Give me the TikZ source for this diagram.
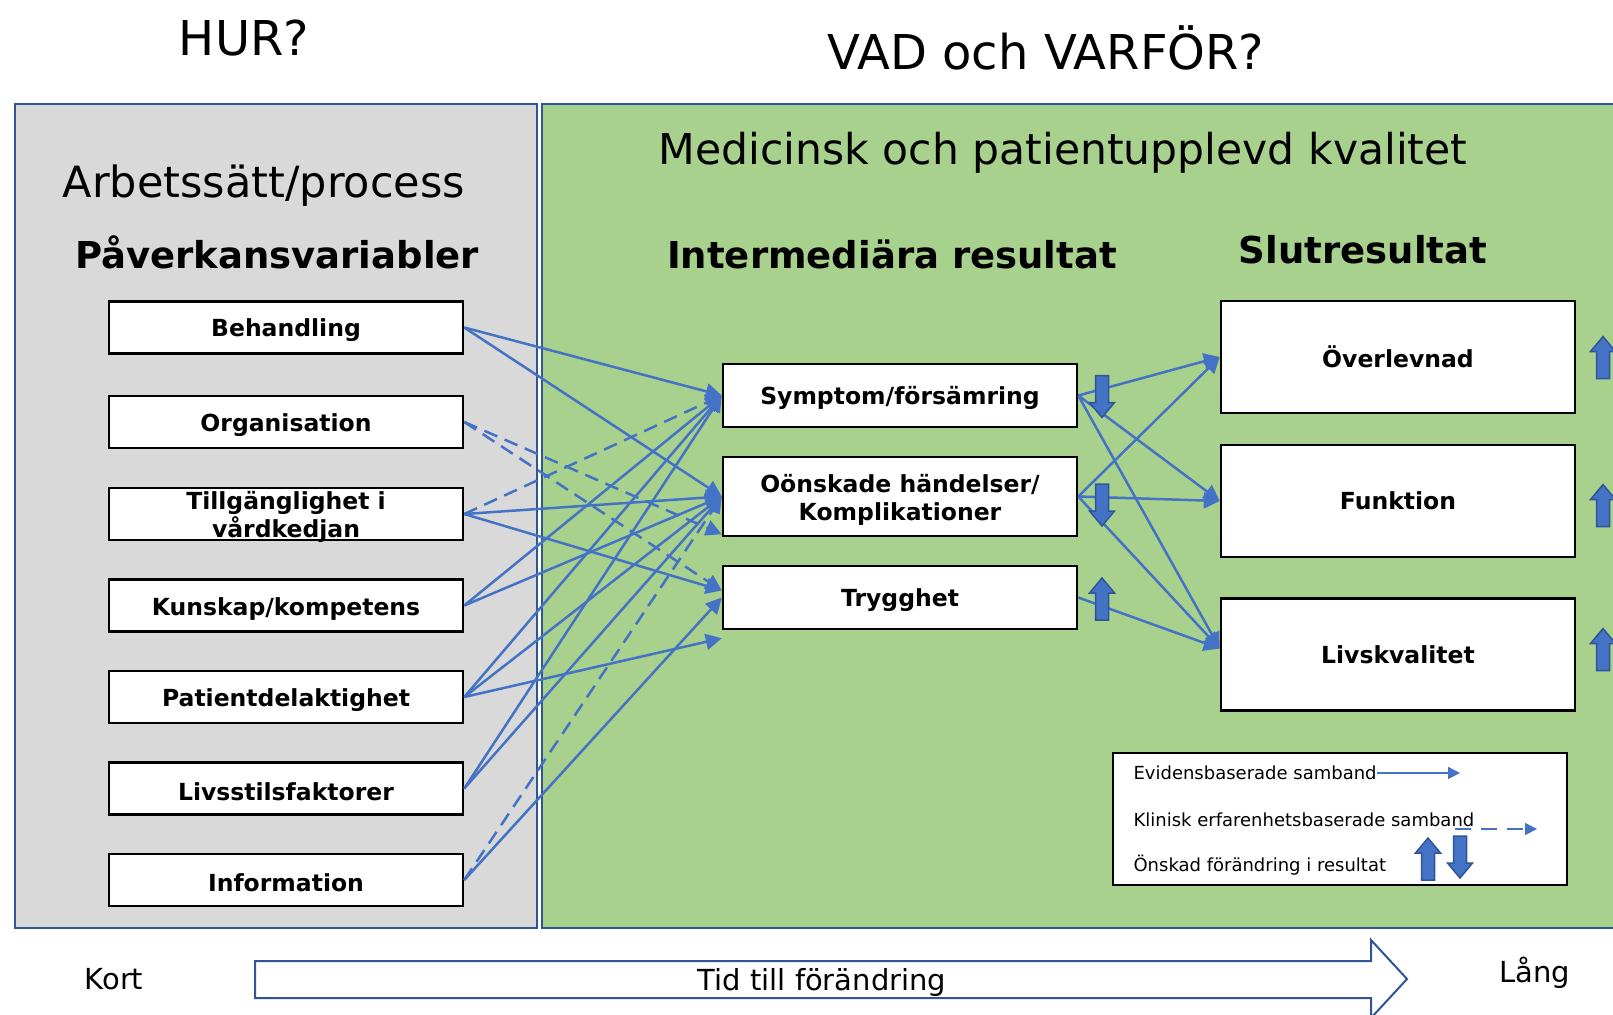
\documentclass[tikz,border=0pt]{standalone}
\usepackage{fontspec}
\setmainfont{DejaVu Sans}
\usetikzlibrary{arrows.meta}
\definecolor{lnk}{RGB}{68,114,196}
\definecolor{dkblue}{RGB}{47,85,151}
\definecolor{panelgrey}{RGB}{217,217,217}
\definecolor{panelgreen}{RGB}{169,209,142}
\newcommand{\setfs}[1]{\fontsize{#1}{#1}\selectfont}
\newcommand{\lowstrut}{\rule{0pt}{24pt}}

\tikzset{
	varbox/.style={draw, line width=2.5pt, fill=white, inner sep=0pt, minimum width=354pt, align=center, font=\bfseries\fontsize{23.5}{28}\selectfont},
	lowtext/.style={execute at begin node={\lowstrut}},
	evid/.style={draw=lnk, line width=2.5pt, -{Triangle[length=16pt,width=16pt]}},
	klin/.style={evid, dash pattern=on 14pt off 8pt},
	blk/.style={fill=lnk, draw=dkblue, line width=1.5pt},
	uparr/.pic={\path[blk] (-6.5,21) -- (-6.5,-6) -- (-12.5,-6) -- (0,-21) -- (12.5,-6) -- (6.5,-6) -- (6.5,21) -- cycle;}
}

\begin{document}
\begin{tikzpicture}[x=1pt, y=-1pt]
	\useasboundingbox (0,0) rectangle (1613,1014);
	\clip (0,0) rectangle (1613,1014);
	\fill[white] (0,0) rectangle (1613,1014);
	\draw[dkblue, line width=2.5pt, fill=panelgrey] (15,104) rectangle (537,928);
	\draw[dkblue, line width=2.5pt, fill=panelgreen] (542,104) rectangle (1630,928);

	\node[font=\setfs{48}] (hur) at (244,38) {HUR?};
	\node[font=\setfs{48}] (vad) at (1046,48) {VAD och VARFÖR?};
	\node[font=\setfs{43}] (arb) at (264,186) {Arbetssätt/process};
	\node[font=\setfs{42.5}] (med) at (1063,153) {Medicinsk och patientupplevd kvalitet};
	\node[font=\bfseries\setfs{37}] (pav) at (277,252) {Påverkansvariabler};
	\node[font=\bfseries\setfs{37}] (inter) at (892,254) {Intermediära resultat};
	\node[font=\bfseries\setfs{37}] (slut) at (1363,250) {Slutresultat};

	\begin{scope}[every node/.style={varbox, minimum height=52pt}]
		\node[lowtext] (beh) at (286,327.5) {Behandling};
		\node[lowtext] (org) at (286,422) {Organisation};
		\node[inner ysep=-3pt] (till) at (286,514) {\lowstrut Tillgänglighet i\\vårdkedjan};
		\node[lowtext] (kun) at (286,605.5) {Kunskap/kompetens};
		\node[lowtext] (pat) at (286,697) {Patientdelaktighet};
		\node[lowtext] (livs) at (286,788.5) {Livsstilsfaktorer};
		\node[lowtext] (info) at (286,880) {Information};
	\end{scope}
	\node[varbox, lowtext, minimum height=63pt] (sym) at (900,395.5) {Symptom/försämring};
	\node[varbox, minimum height=79pt] (oon) at (900,496.5) {\lowstrut Oönskade händelser/\\Komplikationer};
	\node[varbox, lowtext, minimum height=63pt] (tryg) at (900,597.5) {Trygghet};
	\begin{scope}[every node/.style={varbox, minimum height=112pt}]
		\node (overl) at (1398,357) {Överlevnad};
		\node (funk) at (1398,501) {Funktion};
		\node (livk) at (1398,654.5) {Livskvalitet};
	\end{scope}

	\draw[evid] (beh.east) -- (sym.west);
	\draw[evid] (beh.east) -- (oon.west);
	\draw[klin] (org.east) -- ([yshift=3pt]oon.south west);
	\draw[klin] (org.east) -- ([yshift=7pt]tryg.west);
	\draw[klin] (till.east) -- (sym.west);
	\draw[evid] (till.east) -- (oon.west);
	\draw[evid] (till.east) -- ([yshift=7pt]tryg.west);
	\draw[evid] (kun.east) -- (sym.west);
	\draw[evid] (kun.east) -- (oon.west);
	\draw[evid] (pat.east) -- (sym.west);
	\draw[evid] (pat.east) -- (oon.west);
	\draw[evid] (pat.east) -- ([yshift=-8pt]tryg.south west);
	\draw[evid] (livs.east) -- (sym.west);
	\draw[evid] (livs.east) -- (oon.west);
	\draw[klin] (info.east) -- (oon.west);
	\draw[evid] (info.east) -- (tryg.west);

	\draw[evid] (sym.east) -- (overl.west);
	\draw[evid] (sym.east) -- (funk.west);
	\draw[evid] (sym.east) -- ([yshift=6pt]livk.west);
	\draw[evid] (oon.east) -- (overl.west);
	\draw[evid] (oon.east) -- (funk.west);
	\draw[evid] (oon.east) -- ([yshift=6pt]livk.west);
	\draw[evid] (tryg.east) -- ([yshift=6pt]livk.west);

	\pic[rotate=180] at (1102,396.5) {uparr};
	\pic[rotate=180] at (1102,505) {uparr};
	\pic at (1102,599) {uparr};
	\pic at (1603,357.5) {uparr};
	\pic at (1603,505.5) {uparr};
	\pic at (1603,649.5) {uparr};

	\draw[line width=2pt, fill=white] (1113,753) rectangle (1567,885);
	\node[anchor=west, font=\setfs{18}] (ev) at (1130,773) {Evidensbaserade samband};
	\node[anchor=west, font=\setfs{18}] (kl) at (1130,820) {Klinisk erfarenhetsbaserade samband};
	\node[anchor=west, font=\setfs{18}] (on) at (1130,865) {Önskad förändring i resultat};
	\coordinate (ev1) at (1377,773);
	\coordinate (ev2) at (1460,773);
	\coordinate (kl1) at (1455,829);
	\coordinate (kl2) at (1537,829);
	\draw[draw=lnk, line width=1.5pt, -{Triangle[length=12pt,width=12pt]}] (ev1) -- (ev2);
	\draw[draw=lnk, line width=1.5pt, dash pattern=on 16pt off 10pt, -{Triangle[length=12pt,width=12pt]}] (kl1) -- (kl2);
	\pic at (1428,859) {uparr};
	\pic[rotate=180] at (1460,857) {uparr};

	\draw[dkblue, line width=2pt, fill=white] (255,961) -- (1371,961) -- (1371,940) -- (1407,979) -- (1371,1018) -- (1371,998) -- (255,998) -- cycle;
	\node[font=\setfs{29}] (tid) at (822,982) {Tid till förändring};
	\node[font=\setfs{29}] (kort) at (114,979) {Kort};
	\node[font=\setfs{29}] (lang) at (1535,973) {Lång};
\end{tikzpicture}
\end{document}
